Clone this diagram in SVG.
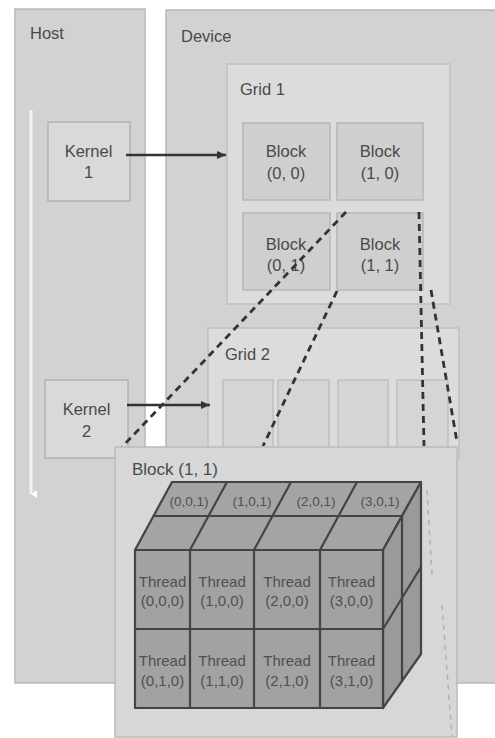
<svg xmlns="http://www.w3.org/2000/svg" width="495" height="738" viewBox="0 0 495 738">
<style>
text{font-family:"Liberation Sans",Arial,sans-serif;fill:#4a4a4a}
.lbl{font-size:16.5px}
.mid{text-anchor:middle}
.panel{fill:#d2d2d2;stroke:#b8b8b8;stroke-width:1.5}
.grid{fill:#dcdcdc;stroke:#c0c0c0;stroke-width:1.5}
.blk{fill:#cfcfcf;stroke:#b7b7b7;stroke-width:1.5}
.gblk{fill:#d5d5d5;stroke:#b9b9b9;stroke-width:1.2}
.kern{fill:#d9d9d9;stroke:#b2b2b2;stroke-width:1.5}
.cube{stroke:#444;stroke-width:2.2;stroke-linejoin:round}
.cl{stroke:#444;stroke-width:2.2;fill:none}
.th{font-size:15px;fill:#505050}
.tp{font-size:13.5px;fill:#505050}
.dash{stroke:#333;stroke-width:2.8;stroke-dasharray:7 5;fill:none}
.faint{stroke:#b0b0b0;stroke-width:1.5;stroke-dasharray:5 5;fill:none}
.arr{stroke:#333;stroke-width:2.4;fill:none}
</style>
<defs>
<marker id="ah" markerWidth="10" markerHeight="10" refX="9" refY="5" orient="auto" markerUnits="userSpaceOnUse">
<path d="M0,1 L9,5 L0,9 Z" fill="#333"/>
</marker>
<marker id="wh" markerWidth="8" markerHeight="8" refX="4" refY="6" orient="auto" markerUnits="userSpaceOnUse">
<path d="M0,0 L4,6 L8,0 Z" fill="#fff"/>
</marker>
</defs>
<rect width="495" height="738" fill="#ffffff"/>

<g id="host">
<rect class="panel" x="15" y="9" width="130" height="674"/>
<text class="lbl" x="30" y="39">Host</text>
<line x1="31" y1="110" x2="31" y2="494" stroke="#f2f2f2" stroke-width="3" marker-end="url(#wh)"/>
</g>
<g id="device">
<rect class="panel" x="166" y="10" width="335" height="673"/>
<text class="lbl" x="181" y="42">Device</text>
</g>

<g id="kernel1">
<rect class="kern" x="48" y="122" width="82" height="79"/>
<text class="lbl mid" x="88.5" y="157">Kernel</text>
<text class="lbl mid" x="88.5" y="178">1</text>
</g>
<g id="kernel2">
<rect class="kern" x="45" y="380" width="83" height="78"/>
<text class="lbl mid" x="86.5" y="415">Kernel</text>
<text class="lbl mid" x="86.5" y="437">2</text>
</g>

<g id="grid1">
<rect class="grid" x="227" y="64" width="223" height="240"/>
<text class="lbl" x="240" y="95">Grid 1</text>
</g>
<g id="block00">
<rect class="blk" x="243" y="123" width="87" height="77"/>
<text class="lbl mid" x="286" y="157">Block</text>
<text class="lbl mid" x="286" y="179">(0, 0)</text>
</g>
<g id="block10">
<rect class="blk" x="337" y="123" width="86" height="77"/>
<text class="lbl mid" x="380" y="157">Block</text>
<text class="lbl mid" x="380" y="179">(1, 0)</text>
</g>
<g id="block01">
<rect class="blk" x="243" y="213" width="87" height="77"/>
<text class="lbl mid" x="286" y="250">Block</text>
<text class="lbl mid" x="286" y="271">(0, 1)</text>
</g>
<g id="block11">
<rect class="blk" x="337" y="213" width="86" height="77"/>
<text class="lbl mid" x="380" y="250">Block</text>
<text class="lbl mid" x="380" y="271">(1, 1)</text>
</g>

<g id="grid2">
<rect class="grid" x="208" y="328" width="251" height="130"/>
<text class="lbl" x="225" y="360">Grid 2</text>
<rect class="gblk" x="223" y="380" width="50" height="78"/>
<rect class="gblk" x="278" y="380" width="51" height="78"/>
<rect class="gblk" x="338" y="380" width="50" height="78"/>
<rect class="gblk" x="397" y="380" width="51" height="78"/>
</g>

<g id="connectors">
<line class="arr" x1="126" y1="155" x2="226" y2="155" marker-end="url(#ah)"/>
<line class="arr" x1="127" y1="405" x2="210" y2="405" marker-end="url(#ah)"/>
<line class="dash" x1="346" y1="212" x2="122" y2="447"/>
<line class="dash" x1="337" y1="291" x2="263" y2="446"/>
<line class="dash" x1="419" y1="212" x2="424" y2="446"/>
<line class="dash" x1="431" y1="290" x2="457" y2="442"/>
</g>

<g id="block11-detail">
<rect x="115" y="447" width="342" height="290" fill="#d7d7d7" stroke="#bbbbbb" stroke-width="1.5"/>
<text x="132" y="475" style="font-size:17px">Block (1, 1)</text>
<line class="faint" x1="427" y1="490" x2="432" y2="575"/>
<line class="faint" x1="442" y1="605" x2="452" y2="737"/>
</g>

<g id="thread-cube">
<polygon class="cube" points="135,550 172,482 421,482 383,550" fill="#a4a4a4"/>
<polygon class="cube" points="383,550 421,482 421,654 383,708" fill="#9a9a9a"/>
<rect class="cube" x="135" y="550" width="248" height="158" fill="#a2a2a2"/>
<line class="cl" x1="153.5" y1="516" x2="402" y2="516"/>
<line class="cl" x1="190" y1="550" x2="227" y2="482"/>
<line class="cl" x1="254" y1="550" x2="291" y2="482"/>
<line class="cl" x1="320" y1="550" x2="357" y2="482"/>
<line class="cl" x1="402" y1="516" x2="402" y2="681"/>
<line class="cl" x1="383" y1="629" x2="421" y2="567"/>
<line class="cl" x1="135" y1="629" x2="383" y2="629"/>
<line class="cl" x1="190" y1="550" x2="190" y2="708"/>
<line class="cl" x1="254" y1="550" x2="254" y2="708"/>
<line class="cl" x1="320" y1="550" x2="320" y2="708"/>
<text class="tp mid" x="189" y="506">(0,0,1)</text>
<text class="tp mid" x="252" y="506">(1,0,1)</text>
<text class="tp mid" x="316" y="506">(2,0,1)</text>
<text class="tp mid" x="380" y="506">(3,0,1)</text>
<text class="th mid" x="162.5" y="587">Thread</text>
<text class="th mid" x="162.5" y="606">(0,0,0)</text>
<text class="th mid" x="222" y="587">Thread</text>
<text class="th mid" x="222" y="606">(1,0,0)</text>
<text class="th mid" x="287" y="587">Thread</text>
<text class="th mid" x="287" y="606">(2,0,0)</text>
<text class="th mid" x="351.5" y="587">Thread</text>
<text class="th mid" x="351.5" y="606">(3,0,0)</text>
<text class="th mid" x="162.5" y="666">Thread</text>
<text class="th mid" x="162.5" y="686">(0,1,0)</text>
<text class="th mid" x="222" y="666">Thread</text>
<text class="th mid" x="222" y="686">(1,1,0)</text>
<text class="th mid" x="287" y="666">Thread</text>
<text class="th mid" x="287" y="686">(2,1,0)</text>
<text class="th mid" x="351.5" y="666">Thread</text>
<text class="th mid" x="351.5" y="686">(3,1,0)</text>
</g>
</svg>
